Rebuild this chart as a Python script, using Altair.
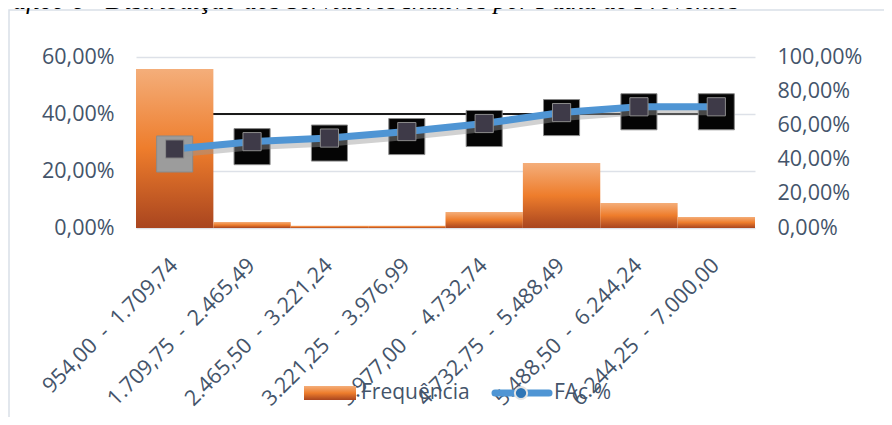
import altair as alt
import pandas as pd

categories = [
    "954,00 - 1.709,74",
    "1.709,75 - 2.465,49",
    "2.465,50 - 3.221,24",
    "3.221,25 - 3.976,99",
    "3.977,00 - 4.732,74",
    "4.732,75 - 5.488,49",
    "5.488,50 - 6.244,24",
    "6.244,25 - 7.000,00",
]
frequencia = [0.558, 0.021, 0.008, 0.008, 0.056, 0.228, 0.088, 0.039]
fac = [0.462, 0.505, 0.526, 0.564, 0.611, 0.675, 0.709, 0.709]
left_ticks = [0, 0.2, 0.4, 0.6]
right_ticks = [0, 0.2, 0.4, 0.6, 0.8, 1.0]
title_text = "Gráfico 6 - Distribuição dos Servidores Inativos por Faixa de Proventos"

df = pd.DataFrame({"cat": categories, "freq": frequencia, "fac": fac,
                   "first": [i == 0 for i in range(len(categories))],
                   "ref": [0.4] * len(categories)})

W, H = 619, 171
FONT = "Open Sans"
LBL = "#44546a"
FS = 21.5
pct = "replace(format(datum.value, '.2%'), '.', ',')"

bar_grad = alt.Gradient(
    gradient="linear", x1=0, y1=0, x2=0, y2=1,
    stops=[alt.GradientStop(offset=0, color="#f4ae7a"),
           alt.GradientStop(offset=0.5, color="#ee7d2c"),
           alt.GradientStop(offset=1, color="#a9451f")])

x_axis = alt.Axis(labelAngle=-45, labelAlign="right", labelBaseline="middle",
                  labelPadding=34, labelFontSize=FS, labelFont=FONT,
                  labelExpr="replace(datum.label, ' - ', '\u2002-\u2002')",
                  labelColor=LBL, ticks=False, domain=False, labelLimit=400)
x_enc = alt.X("cat:N", sort=categories, title=None,
              scale=alt.Scale(paddingInner=0, paddingOuter=0), axis=x_axis)

yl_scale = alt.Scale(domain=[0, 0.6], nice=False, zero=True)
yl_axis = alt.Axis(values=left_ticks, labelExpr=pct, labelFontSize=FS, labelFont=FONT,
                   labelColor=LBL, ticks=False, domain=False, labelPadding=22,
                   grid=True, gridColor="#dde1e8", gridWidth=1.5, title=None)

base = alt.Chart(df)

frame = alt.Chart(pd.DataFrame({"a": [0]})).mark_rect(
    fillOpacity=0, fill="white", stroke="#d9dfe8", strokeWidth=1.5).encode(
    x=alt.value(-127), x2=alt.value(W + 140), y=alt.value(-47), y2=alt.value(H + 200))

title = alt.Chart(pd.DataFrame({"t": [title_text]})).mark_text(
    align="left", baseline="alphabetic", font="Liberation Serif", fontStyle="italic",
    fontSize=26, color="black").encode(x=alt.value(-152), y=alt.value(-48), text="t:N")

rule = base.transform_filter("datum.first").mark_rule(color="#1a1a1a", strokeWidth=2).encode(
    y=alt.Y("ref:Q", scale=yl_scale, axis=yl_axis), x=alt.value(0), x2=alt.value(594))

bars = base.mark_bar(color=bar_grad).encode(
    x=x_enc, y=alt.Y("freq:Q", scale=yl_scale, axis=yl_axis))

left = alt.layer(rule, bars)

yr_scale = alt.Scale(domain=[0, 1], nice=False)
yr_axis = alt.Axis(orient="right", values=right_ticks, labelExpr=pct, labelFontSize=FS,
                   labelFont=FONT, labelColor=LBL, ticks=False, domain=False,
                   labelPadding=22, grid=False, title=None)
yr = alt.Y("fac:Q", scale=yr_scale, axis=yr_axis)
xs = alt.X("cat:N", sort=categories, axis=x_axis, title=None)

outer = base.mark_square(size=1300, opacity=1, yOffset=5, stroke="#8a8a8a", strokeWidth=1).encode(
    x=xs, y=yr,
    fill=alt.condition("datum.first", alt.value("#9c9c9c"), alt.value("#050505")))
shadow = base.mark_line(color="#9a9a9a", strokeWidth=7, opacity=0.45, yOffset=5).encode(x=xs, y=yr)
line = base.mark_line(color="#4f95d4", strokeWidth=7).encode(x=xs, y=yr)
inner = base.mark_square(size=330, opacity=1, fill="#3e3a48", stroke="#8c8c8c", strokeWidth=1).encode(x=xs, y=yr)

right = alt.layer(outer, shadow, line, inner)

# legend
leg_sw = alt.Chart(pd.DataFrame({"a": [0]})).mark_rect(color=bar_grad).encode(
    x=alt.value(168), x2=alt.value(220), y=alt.value(329), y2=alt.value(343))
leg_t1 = alt.Chart(pd.DataFrame({"t": ["Frequência"]})).mark_text(
    align="left", baseline="middle", font=FONT, fontSize=21, color=LBL).encode(
    x=alt.value(225), y=alt.value(336), text="t:N")
leg_ln = alt.Chart(pd.DataFrame({"a": [0]})).mark_rule(color="#4f95d4", strokeWidth=7, strokeCap="round").encode(
    x=alt.value(359), x2=alt.value(413), y=alt.value(336))
leg_pt = alt.Chart(pd.DataFrame({"a": [0]})).mark_point(
    shape="circle", size=150, filled=True, fill="#2e75b6", stroke="#e4e4e4", strokeWidth=2, opacity=1).encode(
    x=alt.value(385), y=alt.value(336))
leg_t2 = alt.Chart(pd.DataFrame({"t": ["FAc %"]})).mark_text(
    align="left", baseline="middle", font=FONT, fontSize=21, color=LBL).encode(
    x=alt.value(418), y=alt.value(336), text="t:N")

chart = alt.layer(frame, title, left, right, leg_sw, leg_t1, leg_ln, leg_pt, leg_t2).resolve_scale(
    y="independent").properties(
    width=W, height=H,
    autosize=alt.AutoSizeParams(type="none"),
    padding={"left": 128, "top": 49, "right": 129, "bottom": 189},
).configure_view(stroke=None)

chart.save("out.html", embed_options={"renderer": "svg", "actions": False})
